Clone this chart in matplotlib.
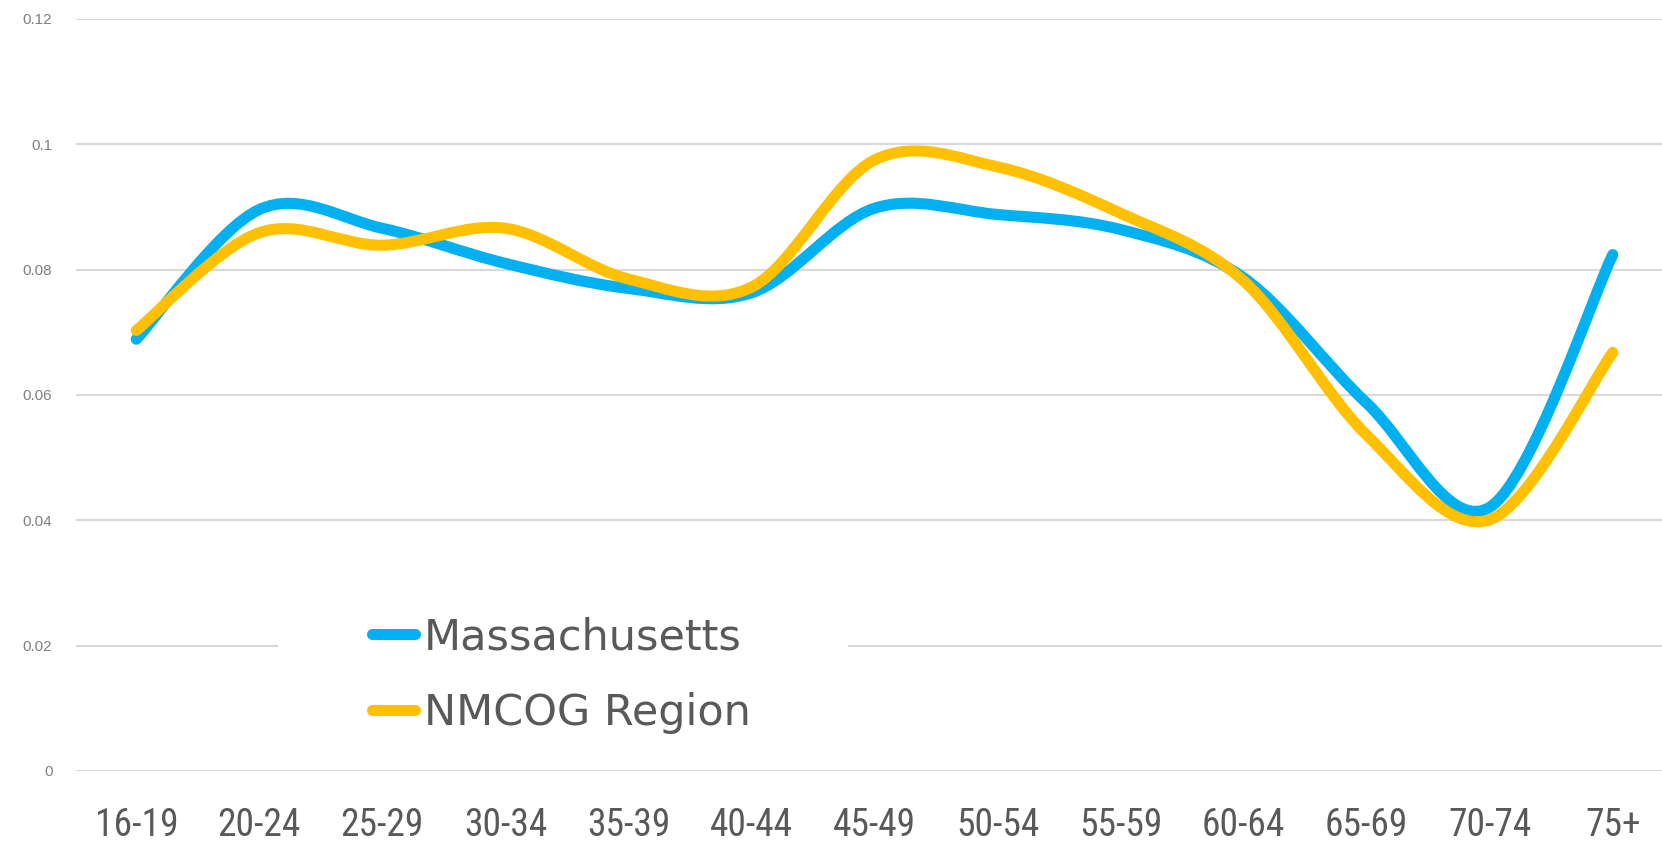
import numpy as np
import matplotlib.pyplot as plt
from matplotlib.path import Path
from matplotlib.patches import PathPatch, Rectangle
from matplotlib.lines import Line2D

age_groups = ["16-19", "20-24", "25-29", "30-34", "35-39", "40-44", "45-49",
              "50-54", "55-59", "60-64", "65-69", "70-74", "75+"]
massachusetts = [0.0689, 0.0896, 0.0866, 0.0810, 0.0770, 0.0763, 0.0898,
                 0.0888, 0.0864, 0.0787, 0.0587, 0.0421, 0.0824]
nmcog = [0.0703, 0.0859, 0.0839, 0.0866, 0.0785, 0.0772, 0.0975,
         0.0964, 0.0890, 0.0782, 0.0536, 0.0401, 0.0668]
y_ticks = [0, 0.02, 0.04, 0.06, 0.08, 0.1, 0.12]
y_tick_labels = ["0", "0.02", "0.04", "0.06", "0.08", "0.1", "0.12"]

blue = "#00B0F0"
gold = "#FFC000"
narrow = ["Liberation Sans Narrow", "Roboto Condensed", "DejaVu Sans Condensed",
          "Liberation Sans", "DejaVu Sans"]


def smooth_path(xs, ys):
    # Excel-style smoothed line: cubic bezier with catmull-rom control points
    pts = np.column_stack([xs, ys]).astype(float)
    n = len(pts)
    verts = [pts[0]]
    codes = [Path.MOVETO]
    for i in range(n - 1):
        p0 = pts[i - 1] if i > 0 else pts[i]
        p1 = pts[i]
        p2 = pts[i + 1]
        p3 = pts[i + 2] if i + 2 < n else pts[i + 1]
        c1 = p1 + (p2 - p0) / 6.0
        c2 = p2 - (p3 - p1) / 6.0
        verts += [c1, c2, p2]
        codes += [Path.CURVE4] * 3
    return Path(verts, codes)


fig = plt.figure(figsize=(16.62, 8.42), dpi=100)
ax = fig.add_axes([76 / 1662, (842 - 771) / 842, 1 - 76 / 1662, (771 - 19) / 842])

x = np.arange(len(age_groups))
for vals, col in [(massachusetts, blue), (nmcog, gold)]:
    patch = PathPatch(smooth_path(x, vals), facecolor="none", edgecolor=col,
                      lw=8, capstyle="round", joinstyle="round", zorder=3)
    ax.add_patch(patch)

ax.set_xlim(-0.49, 12.40)
ax.set_ylim(0, 0.12)
ax.set_yticks(y_ticks)
ax.set_yticklabels(y_tick_labels, family=narrow[3:])
ax.set_xticks(x)
ax.set_xticklabels(age_groups, family=narrow, fontsize=27, color="#595959")
ax.tick_params(axis="x", length=0, pad=26)
ax.tick_params(axis="y", length=0, pad=17, labelsize=11, labelcolor="#7F7F7F")
ax.yaxis.grid(True, color="#D9D9D9", lw=1.5)
ax.set_axisbelow(True)
for s in ax.spines.values():
    s.set_visible(False)

# white legend box that breaks the 0.02 gridline
ax.add_patch(Rectangle(((278 - 76) / 1586, 0.10), (848 - 278) / 1586, 0.14,
                       transform=ax.transAxes, facecolor="white",
                       edgecolor="none", zorder=1))

handles = [Line2D([], [], color=blue, lw=8, solid_capstyle="round"),
           Line2D([], [], color=gold, lw=8, solid_capstyle="round")]
leg = fig.legend(handles, ["Massachusetts", "NMCOG Region"],
                 loc="upper left", bbox_to_anchor=(372 / 1662, 1 - 616 / 842),
                 frameon=False, fontsize=31, labelcolor="#595959",
                 handlelength=1.0, handletextpad=0.2, labelspacing=0.8,
                 borderpad=0, borderaxespad=0)

fig.savefig("out.png", dpi=100)
